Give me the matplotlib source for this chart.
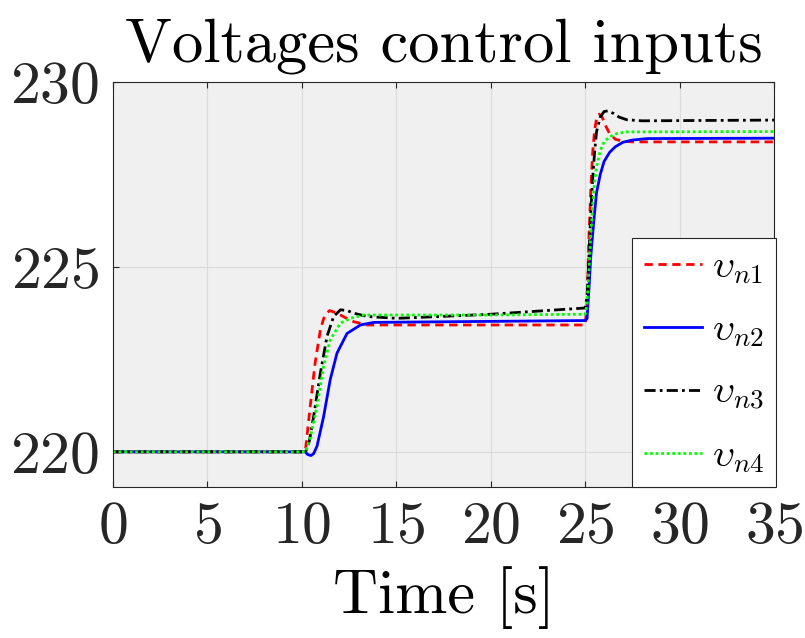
import matplotlib
matplotlib.use("Agg")
import matplotlib.pyplot as plt

# Data (time [s], voltage [V])
T1 = [0, 10.1, 10.2, 10.44, 10.7, 10.98, 11.15, 11.33, 11.47, 11.7, 12.04, 12.4, 12.74, 13.45,
      25.0, 25.1, 25.2, 25.3, 25.4, 25.5, 25.6, 25.75, 25.9, 26.1, 26.3, 26.6, 27.0, 27.5, 35]
V1 = [220, 220, 220.1, 221.22, 222.4, 223.3, 223.6, 223.75, 223.82, 223.78, 223.7, 223.6, 223.52, 223.43,
      223.43, 224.0, 225.8, 227.1, 228.1, 228.7, 229.0, 229.13, 229.05, 228.8, 228.6, 228.45, 228.4, 228.38, 228.38]

T2 = [0, 10.18, 10.3, 10.48, 10.62, 10.8, 11.15, 11.5, 11.86, 12.39, 13.1, 13.8,
      25.0, 25.1, 25.2, 25.3, 25.45, 25.6, 25.8, 26.0, 26.3, 26.6, 27.0, 27.5, 28.3, 35]
V2 = [220, 220, 219.93, 219.9, 219.95, 220.15, 220.95, 221.95, 222.67, 223.2, 223.43, 223.5,
      223.55, 223.6, 224.4, 225.3, 226.2, 227.0, 227.5, 227.85, 228.1, 228.25, 228.37, 228.43, 228.47, 228.48]

T3 = [0, 10.2, 10.4, 10.62, 10.98, 11.33, 11.68, 12.04, 12.4, 12.74, 13.45, 15.04, 20.0, 25.0,
      25.1, 25.2, 25.3, 25.4, 25.5, 25.6, 25.8, 26.0, 26.2, 26.5, 26.8, 27.2, 28.0, 35]
V3 = [220, 220, 220.3, 220.95, 222.13, 223.12, 223.66, 223.84, 223.82, 223.75, 223.66, 223.61, 223.72, 223.89,
      224.2, 225.3, 226.5, 227.4, 228.1, 228.65, 229.05, 229.2, 229.22, 229.15, 229.05, 228.98, 228.95, 228.97]

T4 = [0, 10.2, 10.45, 10.8, 11.15, 11.5, 12.04, 12.57, 13.27, 20.0, 25.0,
      25.1, 25.2, 25.3, 25.4, 25.5, 25.6, 25.8, 26.0, 26.3, 26.7, 27.2, 35]
V4 = [220, 220, 220.4, 221.22, 222.31, 223.03, 223.48, 223.61, 223.7, 223.7, 223.72,
      224.0, 224.9, 225.9, 226.7, 227.3, 227.7, 228.15, 228.38, 228.52, 228.61, 228.65, 228.66]

LABELS = [r'$\upsilon_{n1}$', r'$\upsilon_{n2}$', r'$\upsilon_{n3}$', r'$\upsilon_{n4}$']
X_TICKS = [0, 5, 10, 15, 20, 25, 30, 35]
Y_TICKS = [220, 225, 230]

plt.rcParams['font.family'] = 'cmr10'
plt.rcParams['mathtext.fontset'] = 'cm'
plt.rcParams['axes.formatter.use_mathtext'] = True

fig = plt.figure(figsize=(8.05, 6.38), dpi=100)
ax = fig.add_axes([0.1404, 0.2367, 0.8211, 0.6348])
ax.set_facecolor('#f0f0f0')

lw = 2.0
ax.plot(T1, V1, color='#ff0000', linestyle=(0, (3, 2)), lw=lw, label=LABELS[0])
ax.plot(T2, V2, color='#0000ff', linestyle='-', lw=lw, label=LABELS[1])
ax.plot(T3, V3, color='black', linestyle=(0, (4, 1.5, 1, 1.5)), lw=lw, label=LABELS[2])
ax.plot(T4, V4, color='#00ff00', linestyle=(0, (1, 1)), lw=lw, label=LABELS[3])

ax.set_xlim(0, 35)
ax.set_ylim(219.05, 230)
ax.set_xticks(X_TICKS)
ax.set_yticks(Y_TICKS)
ax.grid(True, color='#dcdcdc', lw=0.8)
ax.set_axisbelow(True)
ax.tick_params(direction='in', length=4, top=True, right=True,
               labelsize=43, colors='#262626', pad=10)
for s in ax.spines.values():
    s.set_color('#262626')
    s.set_linewidth(0.8)

ax.set_title('Voltages control inputs', fontsize=45, pad=15)
ax.set_xlabel('Time [s]', fontsize=45, labelpad=8)

leg = ax.legend(loc='lower right', bbox_to_anchor=(1.003, 0.0), borderaxespad=0,
                fontsize=28, handlelength=1.5, handletextpad=0.25, labelspacing=0.68,
                fancybox=False, framealpha=1, edgecolor='#262626', borderpad=0.3)
leg.get_frame().set_linewidth(0.8)

fig.savefig('out.png', dpi=100)
